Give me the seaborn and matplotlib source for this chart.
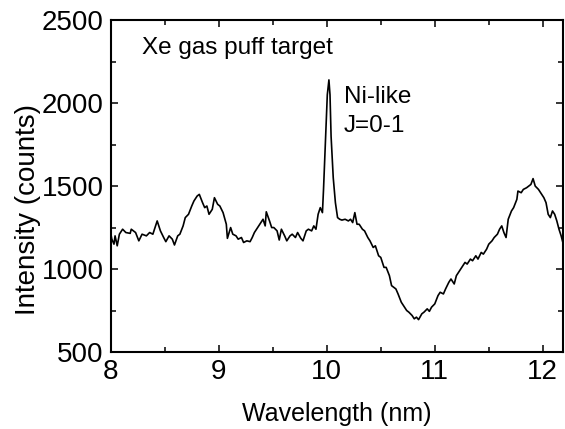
import matplotlib
matplotlib.use("Agg")
import matplotlib.pyplot as plt
import seaborn as sns
import pandas as pd
from matplotlib.ticker import MultipleLocator

wavelength = [8.00, 8.01, 8.03, 8.04, 8.06, 8.08, 8.11, 8.14, 8.18, 8.19, 8.23, 8.26, 8.29, 8.33,
              8.36, 8.39, 8.43, 8.46, 8.49, 8.51, 8.54, 8.57, 8.59, 8.62, 8.64, 8.67, 8.69, 8.72,
              8.75, 8.77, 8.80, 8.82, 8.85, 8.87, 8.89, 8.91, 8.94, 8.96, 8.99, 9.01, 9.04, 9.07,
              9.08, 9.11, 9.13, 9.16, 9.18, 9.21, 9.23, 9.26, 9.29, 9.31, 9.33, 9.36, 9.38, 9.41,
              9.43, 9.44, 9.47, 9.49, 9.51, 9.54, 9.56, 9.58, 9.61, 9.63, 9.66, 9.68, 9.71, 9.73,
              9.76, 9.78, 9.81, 9.83, 9.86, 9.88, 9.90, 9.92, 9.94, 9.96, 9.97, 9.99, 10.005, 10.02,
              10.03, 10.04, 10.06, 10.08, 10.10, 10.12, 10.14, 10.17, 10.20, 10.22, 10.24, 10.26,
              10.28, 10.30, 10.33, 10.35, 10.38, 10.40, 10.43, 10.45, 10.48, 10.50, 10.53, 10.55,
              10.58, 10.60, 10.64, 10.66, 10.69, 10.71, 10.74, 10.76, 10.79, 10.81, 10.83, 10.85,
              10.88, 10.90, 10.93, 10.95, 10.97, 11.00, 11.03, 11.05, 11.08, 11.10, 11.13, 11.15,
              11.18, 11.20, 11.23, 11.25, 11.28, 11.30, 11.33, 11.35, 11.38, 11.40, 11.43, 11.45,
              11.48, 11.50, 11.53, 11.55, 11.58, 11.60, 11.62, 11.64, 11.66, 11.68, 11.71, 11.73,
              11.76, 11.77, 11.80, 11.82, 11.85, 11.87, 11.89, 11.91, 11.93, 11.96, 11.98, 12.01,
              12.03, 12.05, 12.07, 12.09, 12.11, 12.13, 12.15, 12.17, 12.19, 12.21]

intensity = [1215, 1180, 1150, 1200, 1140, 1210, 1240, 1220, 1215, 1240, 1220, 1170, 1210, 1200,
             1220, 1210, 1290, 1230, 1190, 1165, 1200, 1180, 1145, 1200, 1210, 1260, 1310, 1330,
             1380, 1410, 1440, 1450, 1400, 1370, 1380, 1330, 1360, 1430, 1390, 1380, 1340, 1270,
             1185, 1250, 1210, 1200, 1180, 1190, 1160, 1170, 1165, 1190, 1220, 1250, 1270, 1300,
             1260, 1345, 1290, 1250, 1250, 1230, 1175, 1240, 1200, 1170, 1200, 1210, 1190, 1220,
             1185, 1170, 1230, 1240, 1230, 1260, 1240, 1330, 1370, 1340, 1480, 1800, 2050, 2140,
             2050, 1800, 1550, 1400, 1310, 1300, 1295, 1300, 1290, 1300, 1280, 1340,
             1270, 1270, 1240, 1230, 1190, 1170, 1130, 1140, 1080, 1070, 1010, 1010,
             960, 900, 880, 850, 800, 780, 750, 740, 720, 700, 710, 695,
             730, 740, 760, 745, 770, 790, 840, 860, 850, 880, 920, 940,
             910, 960, 990, 1010, 1040, 1030, 1060, 1050, 1080, 1060, 1100, 1090,
             1120, 1150, 1170, 1190, 1210, 1240, 1260, 1220, 1190, 1300, 1350, 1370,
             1420, 1470, 1460, 1480, 1490, 1500, 1510, 1545, 1500, 1480, 1460, 1430,
             1400, 1330, 1310, 1350, 1330, 1290, 1240, 1200, 1150, 1130]

x_ticks = [8, 9, 10, 11, 12]
y_ticks = [500, 1000, 1500, 2000, 2500]

df = pd.DataFrame({"Wavelength": wavelength, "Intensity": intensity})

sns.set_theme(style="ticks")
plt.rcParams["font.family"] = ["Liberation Sans", "DejaVu Sans"]
plt.rcParams["text.color"] = "black"
plt.rcParams["axes.labelcolor"] = "black"
plt.rcParams["xtick.color"] = "black"
plt.rcParams["ytick.color"] = "black"

fig = plt.figure(figsize=(5.65, 4.29), dpi=100)
ax = fig.add_axes([0.196, 0.1795, 0.801, 0.7735])

sns.lineplot(data=df, x="Wavelength", y="Intensity", ax=ax, color="black",
             linewidth=1.2, estimator=None, sort=False)

ax.set_xlim(8, 12.19)
ax.set_ylim(500, 2500)
ax.set_xticks(x_ticks)
ax.set_yticks(y_ticks)
ax.xaxis.set_minor_locator(MultipleLocator(0.5))
ax.yaxis.set_minor_locator(MultipleLocator(250))
ax.tick_params(which="both", direction="in", top=True, right=True, width=1.1,
               colors="black", labelsize=20)
ax.tick_params(which="major", length=4.7, pad=5)
ax.tick_params(which="minor", length=3.3)
for s in ax.spines.values():
    s.set_linewidth(1.5)
    s.set_color("black")

ax.set_xlabel("Wavelength (nm)", fontsize=18, labelpad=12)
ax.set_ylabel("Intensity (counts)", fontsize=20)
ax.yaxis.set_label_coords(-0.155, 0.43)

ax.text(8.29, 2335, "Xe gas puff target", fontsize=17.5, va="center", ha="left")
ax.text(10.155, 2035, "Ni-like", fontsize=17.5, va="center", ha="left")
ax.text(10.155, 1860, "J=0-1", fontsize=17.5, va="center", ha="left")

fig.savefig("out.png", dpi=100)
